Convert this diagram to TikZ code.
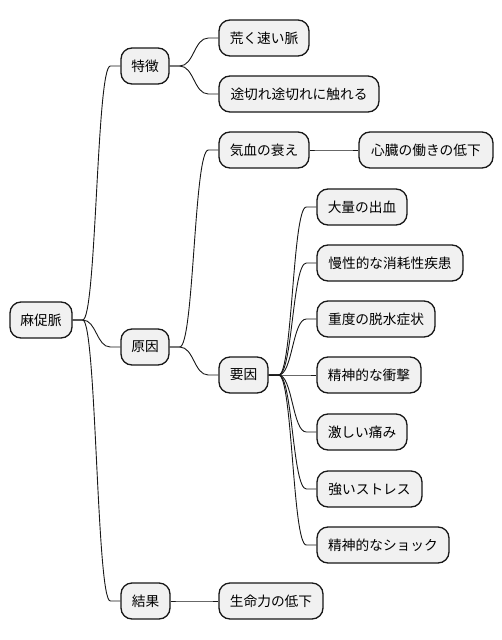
\documentclass[tikz,border=0pt]{standalone}
\usepackage{fontspec}
\setmainfont{Noto Sans CJK JP}
\usetikzlibrary{calc}
\definecolor{boxfill}{HTML}{F1F1F1}
\definecolor{boxline}{HTML}{181818}
\tikzset{
  mmbox/.style={draw=boxline, fill=boxfill, line width=1.3pt, rounded corners=11pt,
    minimum height=36pt, inner sep=0pt, font=\fontsize{13.7}{16}\selectfont, anchor=center},
  mmline/.style={draw=boxline, line width=0.9pt}
}
\newcommand{\mmconn}[2]{%
  \draw[mmline] let \p1=(#1.east), \p2=(#2.west), \n1={(\x2-\x1-20pt)/2} in
    (\p1) -- ({\x1+10pt},\y1) .. controls ({\x1+10pt+\n1},\y1) and ({\x2-10pt-\n1},\y2) .. ({\x2-10pt},\y2) -- (\p2);%
}
\begin{document}
\begin{tikzpicture}[x=1pt,y=-1pt]
\useasboundingbox[fill=white] (0,0) rectangle (502,640);
\node[mmbox, minimum width=62pt] (root) at (41,320) {麻促脈};
\node[mmbox, minimum width=48pt] (toku) at (145,66) {特徴};
\node[mmbox, minimum width=90pt] (ara) at (264,38) {荒く速い脈};
\node[mmbox, minimum width=160pt] (togi) at (299,94) {途切れ途切れに触れる};
\node[mmbox, minimum width=48pt] (gen) at (145,347) {原因};
\node[mmbox, minimum width=90pt] (kike) at (264,150) {気血の衰え};
\node[mmbox, minimum width=134pt] (shin) at (426,150) {心臓の働きの低下};
\node[mmbox, minimum width=49pt] (yoin) at (243.5,375) {要因};
\node[mmbox, minimum width=90pt] (y1) at (362,207) {大量の出血};
\node[mmbox, minimum width=146pt] (y2) at (390,263) {慢性的な消耗性疾患};
\node[mmbox, minimum width=118pt] (y3) at (376,319) {重度の脱水症状};
\node[mmbox, minimum width=104pt] (y4) at (369,375) {精神的な衝撃};
\node[mmbox, minimum width=90pt] (y5) at (362,432) {激しい痛み};
\node[mmbox, minimum width=105pt] (y6) at (369.5,489) {強いストレス};
\node[mmbox, minimum width=132pt] (y7) at (383,545) {精神的なショック};
\node[mmbox, minimum width=49pt] (kek) at (145.5,601) {結果};
\node[mmbox, minimum width=104pt] (sei) at (271,601) {生命力の低下};
\mmconn{root}{toku}
\mmconn{root}{gen}
\mmconn{root}{kek}
\mmconn{toku}{ara}
\mmconn{toku}{togi}
\mmconn{gen}{kike}
\mmconn{gen}{yoin}
\mmconn{kike}{shin}
\mmconn{yoin}{y1}
\mmconn{yoin}{y2}
\mmconn{yoin}{y3}
\mmconn{yoin}{y4}
\mmconn{yoin}{y5}
\mmconn{yoin}{y6}
\mmconn{yoin}{y7}
\mmconn{kek}{sei}
\end{tikzpicture}
\end{document}
